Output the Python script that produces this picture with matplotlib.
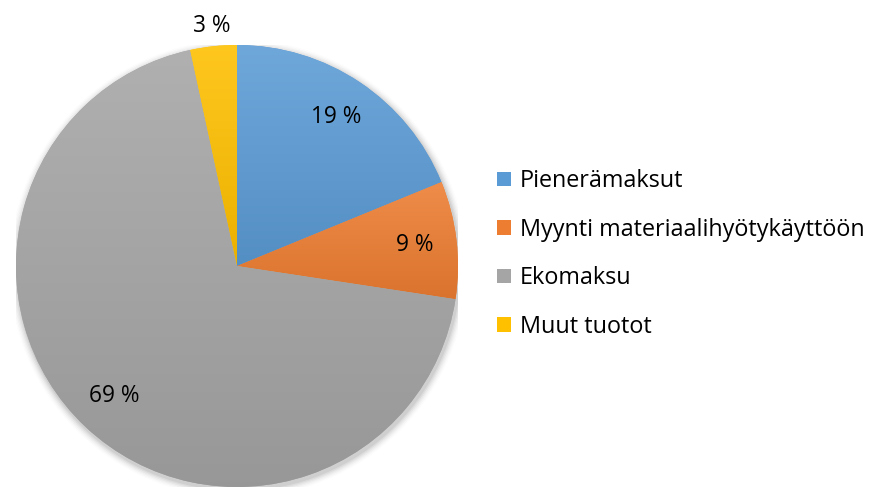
import numpy as np
import matplotlib
matplotlib.use("Agg")
import matplotlib.pyplot as plt
from matplotlib.colors import to_rgb
from matplotlib.patches import Circle

categories = ["Pienerämaksut", "Myynti materiaalihyötykäyttöön", "Ekomaksu", "Muut tuotot"]
values = [18.8, 8.6, 69.2, 3.4]
colors = ["#5B9BD5", "#ED7D31", "#A5A5A5", "#FFC000"]

plt.rcParams['font.family'] = ['Open Sans', 'DejaVu Sans']
FS = 16.3
LFS = 16.8

W, H = 873, 487
fig = plt.figure(figsize=(W / 100, H / 100), dpi=100)
cx, cy, r = 237, 266, 221
ax = fig.add_axes([(cx - r) / W, (H - cy - r) / H, 2 * r / W, 2 * r / H])
ax.set_xlim(-1, 1)
ax.set_ylim(-1, 1)
ax.set_aspect('equal')
ax.axis('off')

# soft shadow
for i, a in enumerate(np.linspace(0.05, 0.012, 6)):
    ax.add_patch(Circle((0.006, -0.012), 1.0 + 0.006 * (i + 1), color='black', alpha=a, lw=0, zorder=0))

wedges, texts, autotexts = ax.pie(values, colors=colors, startangle=90, counterclock=False,
                                  autopct=lambda p: f"{p:.0f} %", pctdistance=0.81,
                                  wedgeprops=dict(linewidth=0), radius=1.0,
                                  textprops=dict(fontsize=FS, color='#000000'))
ax.set_xlim(-1, 1)
ax.set_ylim(-1, 1)


def shade(c, f):
    c = np.array(to_rgb(c))
    if f >= 0:
        return c + (1 - c) * f
    return c * (1 + f)


for w, c in zip(wedges, colors):
    bb = w.get_path().transformed(w.get_patch_transform()).get_extents()
    n = 200
    t = np.linspace(0, 1, n)[:, None]
    top, bot = shade(c, 0.12), shade(c, -0.08)
    img = top[None, :] * (1 - t[..., None]) + bot[None, :] * t[..., None]
    img = np.repeat(img, 2, axis=1)
    im = ax.imshow(img, extent=[bb.x0, bb.x1, bb.y0, bb.y1], origin='upper',
                   aspect='auto', zorder=w.get_zorder() + 0.1, interpolation='bilinear')
    im.set_clip_path(w)

for t in autotexts:
    t.set_zorder(5)

# move small slice label outside
w = wedges[3]
ang = np.deg2rad((w.theta1 + w.theta2) / 2)
autotexts[3].set_position((1.09 * np.cos(ang), 1.09 * np.sin(ang)))

leg = fig.legend(wedges, categories, loc='center left', bbox_to_anchor=(497 / W, 1 - 254 / H),
                 frameon=False, fontsize=LFS, labelspacing=1.05, handlelength=0.6,
                 handleheight=0.6, handletextpad=0.39, borderpad=0, borderaxespad=0)

fig.savefig("out.png", dpi=100)
